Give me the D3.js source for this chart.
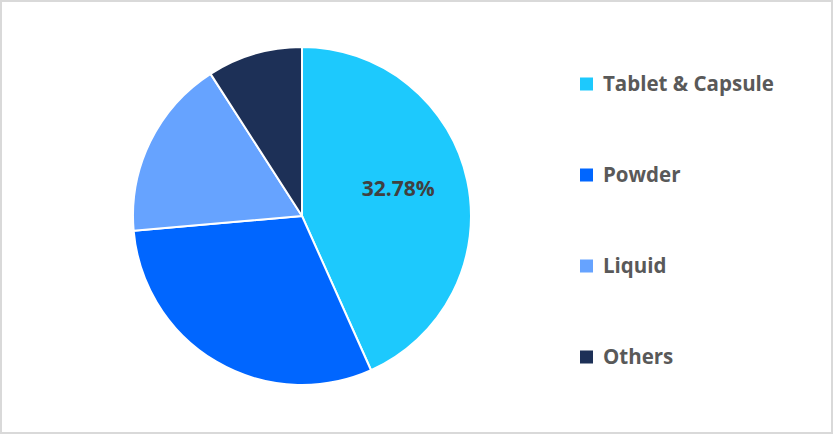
<!DOCTYPE html>
<html><head><meta charset="utf-8">
<script src="https://cdn.jsdelivr.net/npm/d3@7"></script>
<style>
html,body{margin:0;padding:0;background:#fff;}
svg{display:block;}
</style></head>
<body>
<svg id="chart" width="833" height="434"></svg>
<script>
const categories = ["Tablet & Capsule", "Powder", "Liquid", "Others"];
const values = [43.3, 30.3, 17.3, 9.1];
const colors = ["#1DC9FD", "#0066FF", "#66A3FF", "#1D3057"];
const sliceLabels = ["32.78%", "", "", ""];

const svg = d3.select("#chart");
const W = 833, H = 434;
svg.append("rect").attr("x",1).attr("y",1).attr("width",W-2).attr("height",H-2)
  .attr("fill","#fff").attr("stroke","#d9d9d9").attr("stroke-width",2);

const cx = 302, cy = 216, r = 169;
const data = categories.map((c,i)=>({cat:c, value:values[i], color:colors[i], label:sliceLabels[i]}));
const pie = d3.pie().value(d=>d.value).sort(null);
const arc = d3.arc().innerRadius(0).outerRadius(r);
const labelArc = d3.arc().innerRadius(r*0.6).outerRadius(r*0.6);
const g = svg.append("g").attr("transform",`translate(${cx},${cy})`);
const arcs = pie(data);
g.selectAll("path").data(arcs).join("path")
  .attr("d",arc).attr("fill",d=>d.data.color)
  .attr("stroke","#fff").attr("stroke-width",2).attr("stroke-linejoin","round");
g.selectAll("text").data(arcs.filter(d=>d.data.label)).join("text")
  .attr("transform",d=>{const c=labelArc.centroid(d);return `translate(${c[0]-3},${c[1]-6})`;})
  .attr("text-anchor","middle").attr("dy","0.35em")
  .attr("font-family","'Open Sans', sans-serif").attr("font-weight",700)
  .attr("font-size",21).attr("fill","#404040")
  .text(d=>d.data.label);

const legendY = d3.scalePoint().domain(categories).range([84, 357]);
const lg = svg.append("g");
const items = lg.selectAll("g").data(data).join("g")
  .attr("transform",d=>`translate(580,${legendY(d.cat)})`);
items.append("rect").attr("x",0).attr("y",-6.5).attr("width",13).attr("height",13).attr("fill",d=>d.color);
items.append("text").attr("x",23).attr("y",0).attr("dy","0.35em")
  .attr("font-family","'Open Sans', sans-serif").attr("font-weight",700)
  .attr("font-size",20.5).attr("fill","#595959")
  .text(d=>d.cat);
</script>
</body></html>
